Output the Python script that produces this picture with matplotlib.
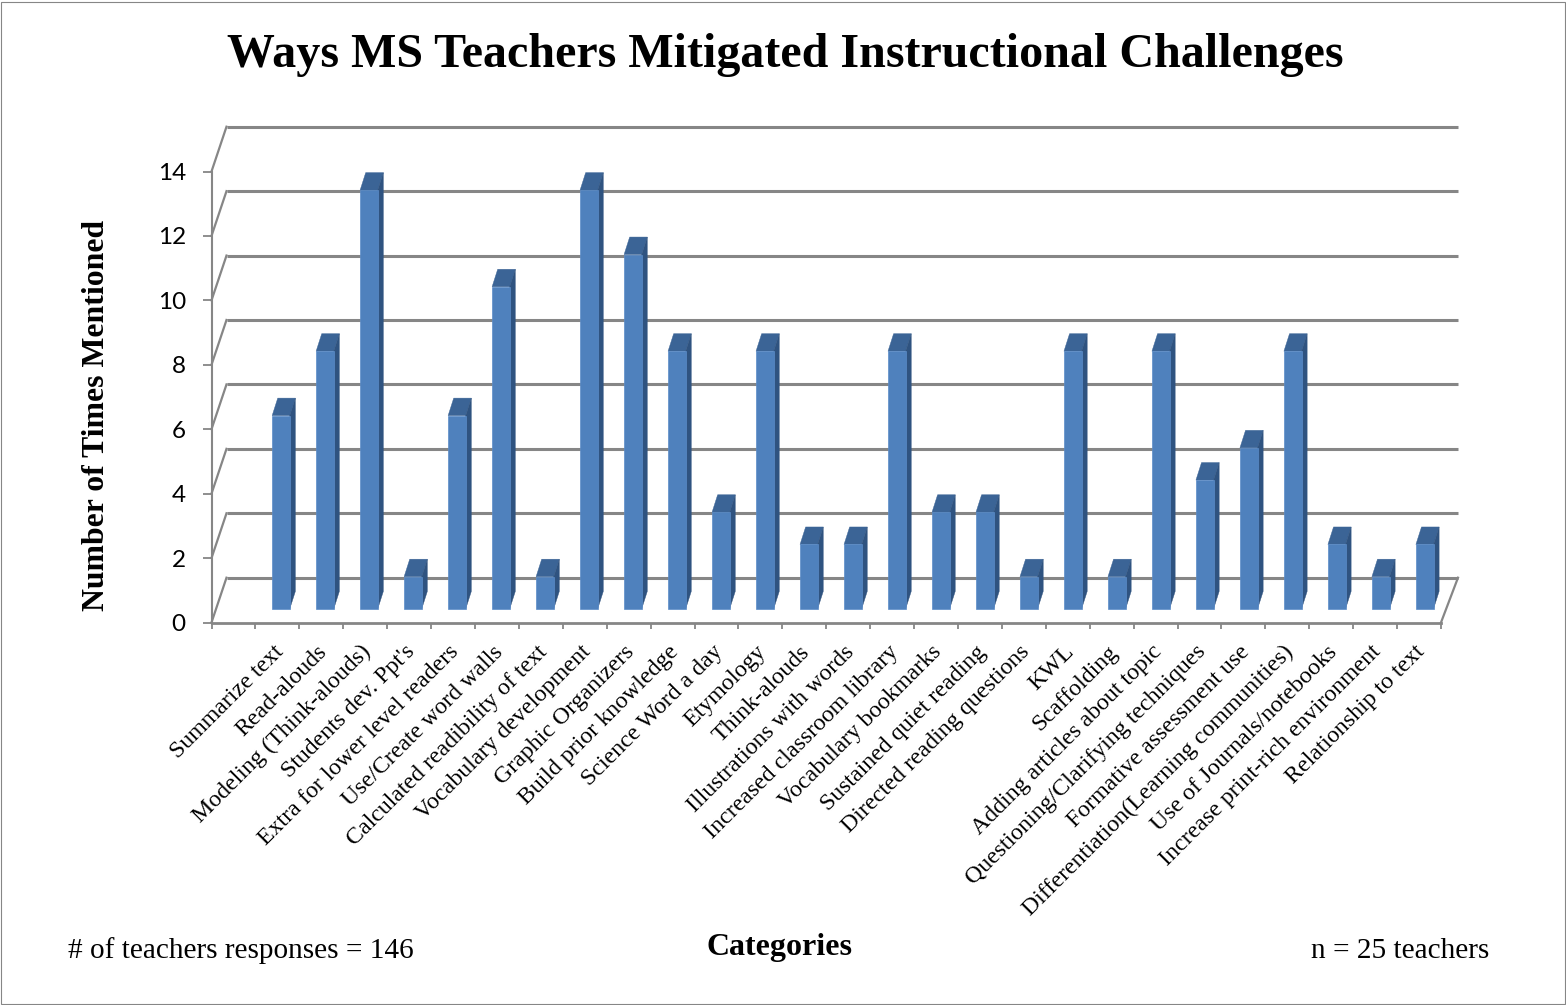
import numpy as np
from matplotlib import pyplot as plt
from matplotlib.patches import Polygon, Rectangle

categories = ["", "Summarize text", "Read-alouds", "Modeling (Think-alouds)", "Students dev. Ppt's",
              "Extra for lower level readers", "Use/Create word walls", "Calculated readibility of text",
              "Vocabulary development", "Graphic Organizers", "Build prior knowledge", "Science Word a day",
              "Etymology", "Think-alouds", "Illustrations with words", "Increased classroom library",
              "Vocabulary bookmarks", "Sustained quiet reading", "Directed reading questions", "KWL",
              "Scaffolding", "Adding articles about topic", "Questioning/Clarifying techniques",
              "Formative assessment use", "Differentiation(Learning communities)", "Use of Journals/notebooks",
              "Increase print-rich environment", "Relationship to text"]
values = [0, 6, 8, 13, 1, 6, 10, 1, 13, 11, 8, 3, 8, 2, 2, 8, 3, 3, 1, 8, 1, 8, 4, 5, 8, 2, 1, 2]
y_ticks = [0, 2, 4, 6, 8, 10, 12, 14]

W, H = 1566, 1005
SERIF = 'Liberation Serif'
GRAY = '#868686'

fig = plt.figure(figsize=(W / 100, H / 100), dpi=100)
fig.patches.append(Rectangle((1 / W, 1 / H), (W - 2.5) / W, (H - 3) / H, transform=fig.transFigure,
                             fill=False, ec=GRAY, lw=0.8))

# front plane of the fake 3d box
left, right, bottom, top = 211.5, 1441, 622.5, 171.5
ax = fig.add_axes([left / W, 1 - bottom / H, (right - left) / W, (bottom - top) / H])
ax.set_xlim(-0.5, len(categories) - 0.5)
ax.set_ylim(0, 14)
ax.patch.set_alpha(0)
px_x = (right - left) / len(categories)
px_y = (bottom - top) / 14

# depth offsets, px converted to data units
wall_dx, wall_dy = 15 / px_x, 44.8 / px_y
end_dx = 17 / px_x
bar_dx, bar_dy = 5.6 / px_x, 17.5 / px_y
base = 13.6 / px_y
bar_w = 17.6 / px_x

x0, x1 = ax.get_xlim()
for g in y_ticks:
    ax.plot([x0, x0 + wall_dx], [g, g + wall_dy], color=GRAY, lw=1.6, clip_on=False, zorder=1)
    ax.plot([x0 + wall_dx, x1 + end_dx], [g + wall_dy, g + wall_dy], color=GRAY, lw=2.2, clip_on=False, zorder=1,
            solid_capstyle='butt')
ax.plot([x1, x1 + end_dx], [0, wall_dy], color=GRAY, lw=1.6, clip_on=False, zorder=1)

xs = np.arange(len(categories))
vals = np.array(values)
keep = vals > 0
# the bars drift a little to the right of the ticks going across
centers = xs + (3.5 + 0.08 * xs) / px_x
ax.bar(centers[keep], vals[keep], width=bar_w, bottom=base, color='#4F81BD', ec='#5B8CC8',
       lw=0.5, clip_on=False, zorder=4)
for c, v in zip(centers[keep], vals[keep]):
    xl = c - bar_w / 2
    xr = c + bar_w / 2
    yt = base + v
    ax.add_patch(Polygon([(xl, yt), (xr, yt), (xr + bar_dx, yt + bar_dy), (xl + bar_dx, yt + bar_dy)],
                         fc='#3B6496', ec='#3B6496', lw=0.3, clip_on=False, zorder=3))
    ax.add_patch(Polygon([(xr, base), (xr, yt), (xr + bar_dx, yt + bar_dy), (xr + bar_dx, base + bar_dy)],
                         fc='#2F5380', ec='#2F5380', lw=0.3, clip_on=False, zorder=3))

for side in ['top', 'right']:
    ax.spines[side].set_visible(False)
ax.spines['left'].set_color(GRAY)
ax.spines['left'].set_linewidth(1.5)
ax.spines['bottom'].set_color(GRAY)
ax.spines['bottom'].set_linewidth(2)

ax.set_xticks(np.arange(len(categories) + 1) - 0.5)
ax.set_xticklabels([])
ax.set_yticks(y_ticks)
ax.tick_params(axis='x', length=4.5, width=1.3, color=GRAY)
ax.tick_params(axis='y', length=6.5, width=1.3, color=GRAY, pad=12, labelsize=17.5)
for t in ax.get_yticklabels():
    t.set_family('Lato')

for x, name in zip(xs, categories):
    ax.annotate(name, (x, 0), xytext=(2, -19), textcoords='offset points', rotation=45,
                rotation_mode='anchor', ha='right', va='center', family=SERIF, fontsize=17.2, annotation_clip=False)

fig.text(785.5 / W, 1 - 55 / H, "Ways MS Teachers Mitigated Instructional Challenges", ha='center', va='center',
         family=SERIF, weight='bold', fontsize=34.6)
fig.text(97 / W, 1 - 415 / H, "Number of Times Mentioned", rotation=90, ha='center', va='center',
         family=SERIF, weight='bold', fontsize=22.9)
fig.text(779 / W, 1 - 947 / H, "Categories", ha='center', va='center', family=SERIF, weight='bold', fontsize=23)
fig.text(68 / W, 1 - 951 / H, "# of teachers responses = 146", ha='left', va='center', family=SERIF, fontsize=21.1)
fig.text(1489 / W, 1 - 951 / H, "n = 25 teachers", ha='right', va='center', family=SERIF, fontsize=21.1)

plt.savefig('out.png', dpi=100)
